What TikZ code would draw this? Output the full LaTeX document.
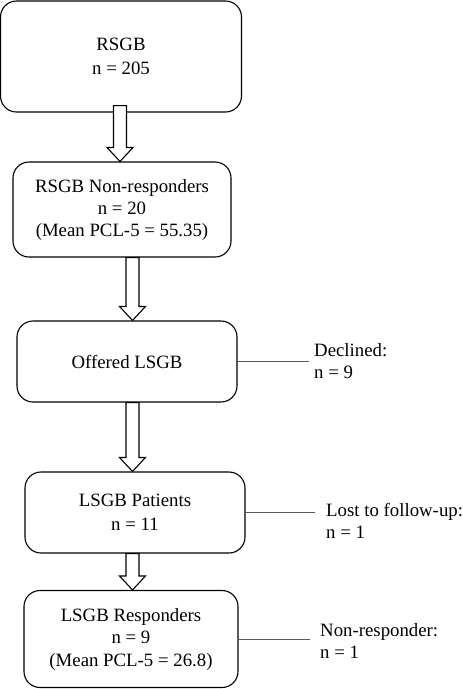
\documentclass[tikz,border=0pt]{standalone}
\usepackage{fontspec}
\setmainfont{Liberation Serif}
\usetikzlibrary{positioning, calc}
\newcommand{\flowfont}{\fontsize{18.8}{22}\selectfont}
% hollow block arrow: from node, to node, x position, overlap into upper box
\newcommand{\blockarrow}[4]{%
    \draw[fatarrow] let \p1=(#1.south), \p2=(#2.north) in
        (#3pt-6.5pt,\y1+#4pt) -- (#3pt-6.5pt,\y2+14pt) -- (#3pt-13pt,\y2+14pt)
        -- (#3pt,\y2) -- (#3pt+13pt,\y2+14pt) -- (#3pt+6.5pt,\y2+14pt)
        -- (#3pt+6.5pt,\y1+#4pt) -- cycle;
}
\tikzset{
    box/.style={draw, line width=1.1pt, rounded corners=16pt, align=center, font=\flowfont, inner sep=2pt},
    sidelabel/.style={anchor=west, align=left, inner sep=0pt, font=\flowfont},
    sideline/.style={line width=1pt, black!65},
    fatarrow/.style={line width=1.1pt, fill=white},
}

\begin{document}
\begin{tikzpicture}[x=1pt, y=-1pt]
    \useasboundingbox (0,0) rectangle (463,689);

    % Main flow boxes
    \node[box, minimum width=241pt, minimum height=111pt] (rsgb) at (121,56.5)
        {RSGB\\[2pt] n = 205};
    \node[box, minimum width=218pt, minimum height=95pt] (nonresp) at (122,209.5)
        {RSGB Non-responders\\ n = 20\\ (Mean PCL-5 = 55.35)};
    \node[box, minimum width=220pt, minimum height=81pt] (offered) at (127,361.5)
        {Offered LSGB};
    \node[box, minimum width=220pt, minimum height=81pt] (patients) at (135,512.5)
        {LSGB Patients\\[2pt] n = 11};
    \node[box, minimum width=214pt, minimum height=97pt] (responders) at (131,639)
        {LSGB Responders\\ n = 9\\[1pt] (Mean PCL-5 = 26.8)};

    % Arrows
    \blockarrow{rsgb}{nonresp}{120}{7}
    \blockarrow{nonresp}{offered}{132.5}{0}
    \blockarrow{offered}{patients}{132.5}{0}
    \blockarrow{patients}{responders}{132.5}{0}

    % Side exits
    \node[sidelabel] (declined) at (314,361.5) {Declined:\\ n = 9};
    \node[sidelabel] (lost) at (326,520.5) {Lost to follow-up:\\ n = 1};
    \node[sidelabel] (nonresp2) at (320,641) {Non-responder:\\ n = 1};
    \coordinate[left=5pt of declined.west] (declinedend);
    \coordinate[left=11pt of lost.west] (lostend);
    \coordinate[left=10pt of nonresp2.west] (nonresp2end);
    \draw[sideline] (offered.east) -- (offered.east -| declinedend);
    \draw[sideline] (patients.east) -- (patients.east -| lostend);
    \draw[sideline] (responders.east) -- (responders.east -| nonresp2end);
\end{tikzpicture}
\end{document}
